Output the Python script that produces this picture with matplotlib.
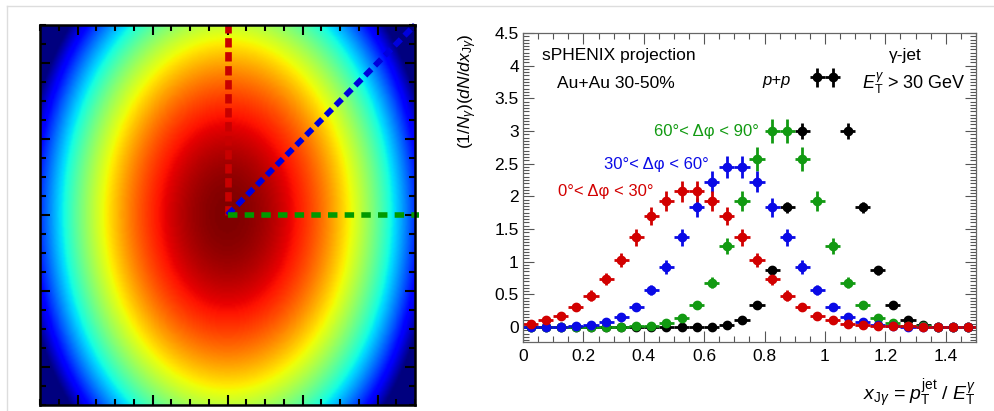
import matplotlib
matplotlib.use('Agg')
import matplotlib.pyplot as plt
import numpy as np
from matplotlib.lines import Line2D
from matplotlib.ticker import MultipleLocator, FuncFormatter

plt.rcParams['font.family'] = ['Liberation Sans', 'DejaVu Sans']
plt.rcParams['mathtext.fontset'] = 'custom'
plt.rcParams['mathtext.rm'] = 'Liberation Sans'
plt.rcParams['mathtext.it'] = 'Liberation Sans:italic'
plt.rcParams['mathtext.bf'] = 'Liberation Sans:bold'

# x_Jgamma bins (width 0.05)
bin_centers = np.arange(0.025, 1.5, 0.05)
bin_half = 0.025

# Au+Au 30-50%, 0 < dphi < 30
red_y = [0.05, 0.10, 0.17, 0.30, 0.48, 0.73, 1.03, 1.37, 1.70, 1.93, 2.08, 2.08, 1.93, 1.70, 1.37,
         1.03, 0.73, 0.48, 0.30, 0.17, 0.10, 0.05, 0.03, 0.02, 0.01, 0.01, 0, 0, 0, 0]
red_err = [0.02, 0.03, 0.05, 0.06, 0.08, 0.09, 0.11, 0.13, 0.14, 0.15, 0.16, 0.16, 0.15, 0.14, 0.13,
           0.11, 0.09, 0.08, 0.06, 0.05, 0.03, 0.02, 0.02, 0.02, 0.01, 0.01, 0, 0, 0, 0]
# 30 < dphi < 60
blue_y = [0, 0, 0, 0.01, 0.03, 0.08, 0.16, 0.31, 0.57, 0.92, 1.37, 1.83, 2.22, 2.45, 2.45,
          2.22, 1.83, 1.37, 0.92, 0.57, 0.31, 0.16, 0.08, 0.03, 0.01, 0, 0, 0, 0, 0]
blue_err = [0, 0, 0, 0.01, 0.02, 0.03, 0.04, 0.06, 0.08, 0.11, 0.13, 0.15, 0.16, 0.17, 0.17,
            0.16, 0.15, 0.13, 0.11, 0.08, 0.06, 0.04, 0.03, 0.02, 0.01, 0, 0, 0, 0, 0]
# 60 < dphi < 90
green_y = [0, 0, 0, 0, 0, 0, 0, 0.01, 0.02, 0.06, 0.13, 0.33, 0.68, 1.24, 1.93,
           2.57, 3.00, 3.00, 2.57, 1.93, 1.24, 0.68, 0.33, 0.13, 0.06, 0.02, 0.01, 0, 0, 0]
green_err = [0, 0, 0, 0, 0, 0, 0, 0.01, 0.02, 0.03, 0.04, 0.06, 0.09, 0.12, 0.15,
             0.18, 0.19, 0.19, 0.18, 0.15, 0.12, 0.09, 0.06, 0.04, 0.03, 0.02, 0.01, 0, 0, 0]
# p+p
black_y = [0, 0, 0, 0, 0, 0, 0, 0, 0, 0, 0, 0, 0, 0.03, 0.10,
           0.33, 0.87, 1.83, 3.00, 3.82, 3.82, 3.00, 1.83, 0.87, 0.33, 0.10, 0.03, 0, 0, 0]
black_err = [0, 0, 0, 0, 0, 0, 0, 0, 0, 0, 0, 0, 0, 0.01, 0.02,
             0.04, 0.07, 0.09, 0.12, 0.14, 0.14, 0.12, 0.09, 0.07, 0.04, 0.02, 0.01, 0, 0, 0]

c_red = '#d20000'
c_blue = '#0a0ae6'
c_green = '#129a12'

fig = plt.figure(figsize=(9.95, 4.11), dpi=100)

# light frame of the screenshot
fig.add_artist(Line2D([7/995, 1], [1 - 6/411, 1 - 6/411], color='#dddddd', lw=1))
fig.add_artist(Line2D([7/995, 7/995], [0, 1 - 6/411], color='#dddddd', lw=1))

# ---- left panel: elliptical density map ----
axl = fig.add_axes([40/995, 6/411, 375/995, 380/411])
gx, gy = np.meshgrid(np.linspace(-1, 1, 240), np.linspace(-1, 1, 240))
dens = 1 - (gx**2 / 1.22 + gy**2 / 2.4)
axl.imshow(dens, extent=[-1, 1, -1, 1], origin='lower', cmap='jet', vmin=0, vmax=1,
           aspect='auto', interpolation='bilinear')
axl.plot([0, 0], [0, 1.0], color='#c80000', lw=4.8, dashes=(1.4, 0.7), clip_on=False)
axl.plot([0, 1.0], [0, 1.0], color='#0000dd', lw=4.2, dashes=(1.5, 0.9), clip_on=False)
axl.plot([0, 1.02], [0, 0], color='#009900', lw=4.0, dashes=(1.7, 1.3), clip_on=False)
axl.set_xlim(-1, 1)
axl.set_ylim(-1, 1)
axl.xaxis.set_minor_locator(MultipleLocator(0.1))
axl.yaxis.set_minor_locator(MultipleLocator(0.1))
axl.set_xticks([-0.8, -0.4, 0, 0.4, 0.8])
axl.set_yticks([-0.8, -0.4, 0, 0.4, 0.8])
axl.tick_params(which='both', direction='in', top=True, right=True,
                labelbottom=False, labelleft=False, width=1.5, color='black')
axl.tick_params(which='major', length=7)
axl.tick_params(which='minor', length=4.5)
for s in axl.spines.values():
    s.set_linewidth(1.8)

# ---- right panel: x_Jgamma distributions ----
ax = fig.add_axes([523/995, 69/411, 453/995, 309/411])
for yv, ev, col in [(black_y, black_err, 'black'), (green_y, green_err, c_green),
                    (blue_y, blue_err, c_blue), (red_y, red_err, c_red)]:
    ax.errorbar(bin_centers, yv, xerr=bin_half, yerr=ev, fmt='o', color=col,
                ms=6, elinewidth=2.0, capsize=0)

ax.set_xlim(0, 1.5)
ax.set_ylim(-0.23, 4.5)
ax.xaxis.set_major_locator(MultipleLocator(0.2))
ax.xaxis.set_minor_locator(MultipleLocator(0.05))
ax.yaxis.set_major_locator(MultipleLocator(0.5))
ax.yaxis.set_minor_locator(MultipleLocator(0.05))
fmt = FuncFormatter(lambda v, p: '%g' % round(v, 2))
ax.xaxis.set_major_formatter(fmt)
ax.yaxis.set_major_formatter(fmt)
ax.tick_params(which='both', direction='in', top=True, right=True, color='#555555',
               labelsize=12.5, width=0.8)
ax.tick_params(which='major', length=8)
ax.tick_params(which='minor', length=4)
ax.tick_params(axis='x', pad=5)
ax.tick_params(axis='y', pad=3)
for s in ax.spines.values():
    s.set_color('#666666')
    s.set_linewidth(0.9)

ax.set_ylabel(r'$(1/N_{\gamma})(dN/dx_{\mathrm{J}\gamma})$', fontsize=12.5, loc='top', labelpad=11)
ax.set_xlabel(r'$x_{\mathrm{J}\gamma}$ = $p_{\mathrm{T}}^{\mathrm{jet}}$ / $E_{\mathrm{T}}^{\gamma}$',
              fontsize=14, loc='right', labelpad=10)

ax.text(0.062, 4.15, 'sPHENIX projection', fontsize=12.5, va='center')
ax.text(0.112, 3.73, 'Au+Au 30-50%', fontsize=12.5, va='center')
ax.text(1.266, 4.15, 'γ-jet', fontsize=12.5, va='center', ha='center')
ax.text(0.887, 3.77, 'p+p', fontsize=12, va='center', ha='right', style='italic')
ax.text(1.121, 3.73, r'$E_{\mathrm{T}}^{\gamma}$ > 30 GeV', fontsize=13, va='center')
ax.text(0.782, 2.99, '60°< Δφ < 90°', fontsize=12, va='center', ha='right', color=c_green)
ax.text(0.614, 2.49, '30°< Δφ < 60°', fontsize=12, va='center', ha='right', color=c_blue)
ax.text(0.432, 2.07, '0°< Δφ < 30°', fontsize=12, va='center', ha='right', color=c_red)

fig.savefig('out.png', dpi=100)
